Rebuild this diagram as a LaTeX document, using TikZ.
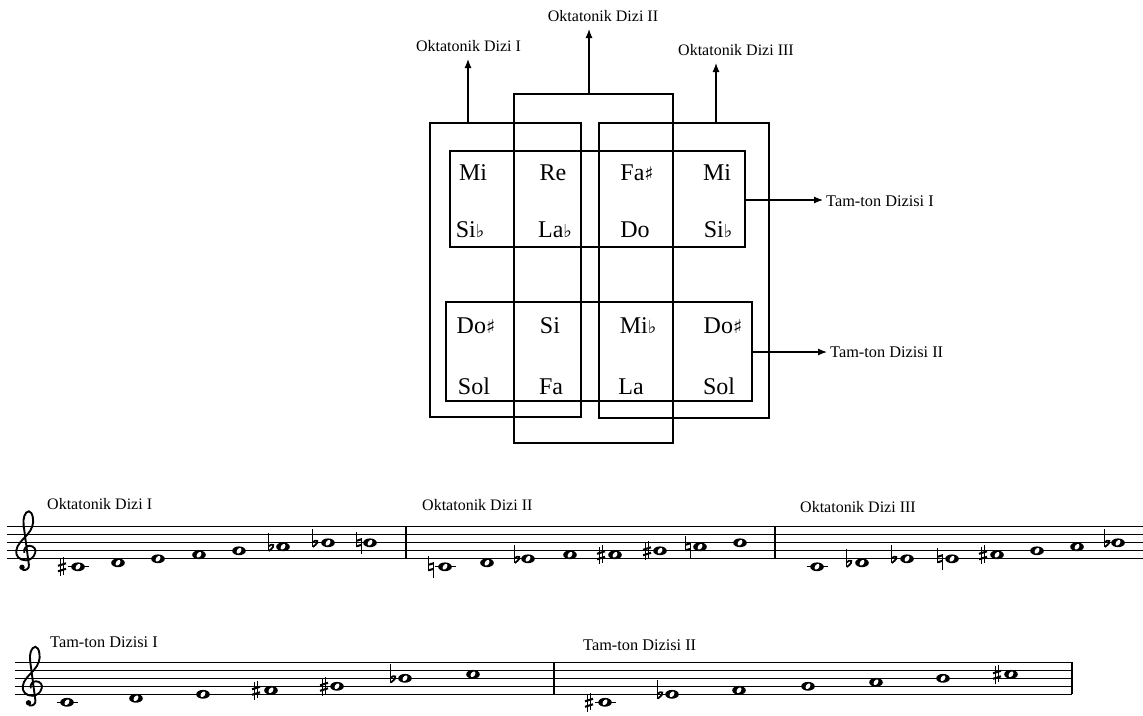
\documentclass[tikz,border=0pt]{standalone}
\usepackage{fontspec}
\setmainfont{Liberation Serif}
\newfontfamily\symfont{DejaVu Sans}
\usetikzlibrary{arrows.meta}
\newcommand{\shp}{{\symfont\fontsize{19}{19}\selectfont ♯}}
\newcommand{\flt}{{\symfont\fontsize{18}{18}\selectfont ♭}}
\tikzset{
  frame/.style={draw, line width=1.2pt, inner sep=0pt, fill=none},
  arr/.style={line width=1.2pt, -{Latex[length=9pt,width=7pt]}},
  cell/.style={anchor=base, inner sep=0pt, font=\fontsize{24}{28}\selectfont},
  lab/.style={anchor=base west, inner sep=0pt, font=\fontsize{16}{19}\selectfont},
  clab/.style={anchor=base, inner sep=0pt, font=\fontsize{16}{19}\selectfont},
  tlab/.style={anchor=base west, inner sep=0pt, font=\fontsize{16.3}{19}\selectfont},
  staffline/.style={line width=1pt},
  barline/.style={line width=1.2pt},
  wnote/.pic={\fill (0,0) ellipse [x radius=6.8, y radius=4.4];
              \fill[white, rotate=-35] (0,0) ellipse [x radius=2.0, y radius=3.2];},
  ledger/.pic={\draw[line width=1pt] (-10.5,0) -- (10.5,0);},
  sharpsign/.pic={\draw[line width=0.7pt] (-1.8,-8) -- (-1.8,9.5) (1.8,-9.5) -- (1.8,8);
                  \draw[line width=2pt] (-4,-1) -- (4,-3.5) (-4,4.5) -- (4,2);},
  flatsign/.pic={\draw[line width=0.8pt] (-3.5,-14) -- (-3.5,4.5);
                 \draw[line width=1.8pt] (-3.5,-0.5) .. controls (0,-4) and (5.5,-2) .. (-3.2,4.2);},
  naturalsign/.pic={\draw[line width=0.8pt] (-2.5,-11) -- (-2.5,4.5) (2.5,-4.5) -- (2.5,11);
                    \draw[line width=2pt] (-2.5,-2) -- (2.5,-3.5) (-2.5,3.5) -- (2.5,2);},
  trebleclef/.pic={
    \draw[line width=1.9pt, xscale=1.15]
      (-1.5,2) .. controls (-2.5,-3) and (1,-5) .. (3,-5)
      .. controls (7,-5) and (9,-1) .. (8,2)
      .. controls (7,7) and (3,9.5) .. (0,9.5)
      .. controls (-6,9.5) and (-9,5) .. (-8.5,0)
      .. controls (-8,-6) and (-3,-11) .. (1,-16)
      .. controls (5,-21) and (7,-27) .. (6,-33)
      .. controls (5.5,-37) and (4,-39.5) .. (2.5,-39.5)
      .. controls (-1,-39.5) and (-3,-32) .. (-2,-25)
      -- (2.5,14)
      .. controls (3,18) and (0,20) .. (-3,19);
    \fill (-4,16.5) circle (2.7);}
}
\begin{document}
\begin{tikzpicture}[x=1pt,y=-1pt]
\useasboundingbox (0,0) rectangle (1143,715);

% ---------- upper diagram ----------
\node[frame, minimum width=151pt, minimum height=294pt] (o1) at (505.5,270) {};
\node[frame, minimum width=159pt, minimum height=349pt] (o2) at (593.5,268.5) {};
\node[frame, minimum width=170pt, minimum height=295pt] (o3) at (684,270.5) {};
\node[frame, minimum width=295pt, minimum height=96pt] (t1) at (597.5,199) {};
\node[frame, minimum width=306pt, minimum height=99pt] (t2) at (599,351.5) {};

\node[clab] (lo1) at (468.5,51) {Oktatonik Dizi I};
\node[clab] (lo2) at (603,21) {Oktatonik Dizi II};
\node[clab] (lo3) at (736,55) {Oktatonik Dizi III};
\coordinate (a1) at (468,59);
\coordinate (a2) at (589,29);
\coordinate (a3) at (716,63);
\draw[arr] (o1.north -| a1) -- (a1);
\draw[arr] (o2.north -| a2) -- (a2);
\draw[arr] (o3.north -| a3) -- (a3);

\node[tlab] (lt1) at (826,206) {Tam-ton Dizisi I};
\node[tlab] (lt2) at (830,357) {Tam-ton Dizisi II};
\coordinate (b1) at (823,200);
\coordinate (b2) at (827,352);
\draw[arr] (t1.east |- b1) -- (b1);
\draw[arr] (t2.east |- b2) -- (b2);

\node[cell] (c11) at (473,180) {Mi};
\node[cell] (c12) at (553,180) {Re};
\node[cell] (c13) at (637,180) {Fa\shp};
\node[cell] (c14) at (717,180) {Mi};
\node[cell] (c21) at (470,237.5) {Si\flt};
\node[cell] (c22) at (555,237.5) {La\flt};
\node[cell] (c23) at (635,237.5) {Do};
\node[cell] (c24) at (718,237.5) {Si\flt};
\node[cell] (c31) at (476,333) {Do\shp};
\node[cell] (c32) at (550,333) {Si};
\node[cell] (c33) at (638,333) {Mi\flt};
\node[cell] (c34) at (723,333) {Do\shp};
\node[cell] (c41) at (474,394) {Sol};
\node[cell] (c42) at (551,394) {Fa};
\node[cell] (c43) at (631,394) {La};
\node[cell] (c44) at (719,394) {Sol};

% ---------- staff 1 ----------
\foreach \k in {0,...,4} \draw[staffline] (7,526.8+8*\k) -- (1143,526.8+8*\k);
\draw[barline] (406,526.8) -- (406,558.8);
\draw[barline] (775,526.8) -- (775,558.8);
\pic at (26,550.8) {trebleclef};
\node[lab] (s1a) at (47,509) {Oktatonik Dizi I};
\node[lab] (s1b) at (422,510) {Oktatonik Dizi II};
\node[lab] (s1c) at (800,512) {Oktatonik Dizi III};
% Okt I
\pic at (78,566.8) {ledger}; \pic at (78,566.8) {wnote}; \pic at (62,566.8) {sharpsign};
\pic at (118,562.8) {wnote};
\pic at (158,558.8) {wnote};
\pic at (199,554.8) {wnote};
\pic at (239,550.8) {wnote};
\pic at (283,546.8) {wnote}; \pic at (272,546.8) {flatsign};
\pic at (328,542.8) {wnote}; \pic at (316,542.8) {flatsign};
\pic at (370,542.8) {wnote}; \pic at (359,542.8) {naturalsign};
% Okt II
\pic at (445,566.8) {ledger}; \pic at (445,566.8) {wnote}; \pic at (431,566.8) {naturalsign};
\pic at (487,562.8) {wnote};
\pic at (528,558.8) {wnote}; \pic at (518,558.8) {flatsign};
\pic at (570,554.8) {wnote};
\pic at (615,554.8) {wnote}; \pic at (601,554.8) {sharpsign};
\pic at (660,550.8) {wnote}; \pic at (647,550.8) {sharpsign};
\pic at (700,546.8) {wnote}; \pic at (688,546.8) {naturalsign};
\pic at (740,542.8) {wnote};
% Okt III
\pic at (817,566.8) {ledger}; \pic at (817,566.8) {wnote};
\pic at (862,562.8) {wnote}; \pic at (850,562.8) {flatsign};
\pic at (907,558.8) {wnote}; \pic at (895,558.8) {flatsign};
\pic at (952,558.8) {wnote}; \pic at (940,558.8) {naturalsign};
\pic at (997,554.8) {wnote}; \pic at (983,554.8) {sharpsign};
\pic at (1037,550.8) {wnote};
\pic at (1077,546.8) {wnote};
\pic at (1118,542.8) {wnote}; \pic at (1108,542.8) {flatsign};

% ---------- staff 2 ----------
\foreach \k in {0,...,4} \draw[staffline] (15,662.3+8*\k) -- (1072,662.3+8*\k);
\draw[barline] (554,662.3) -- (554,694.3);
\draw[barline] (1072,662.3) -- (1072,694.3);
\pic at (32.5,686.3) {trebleclef};
\node[tlab] (s2a) at (50,647) {Tam-ton Dizisi I};
\node[tlab] (s2b) at (583,650) {Tam-ton Dizisi II};
% TT I
\pic at (67,702.3) {ledger}; \pic at (67,702.3) {wnote};
\pic at (136,698.3) {wnote};
\pic at (203,694.3) {wnote};
\pic at (271,690.3) {wnote}; \pic at (256,690.3) {sharpsign};
\pic at (337,686.3) {wnote}; \pic at (324,686.3) {sharpsign};
\pic at (405,678.3) {wnote}; \pic at (394,678.3) {flatsign};
\pic at (473,674.3) {wnote};
% TT II
\pic at (605,702.3) {ledger}; \pic at (605,702.3) {wnote}; \pic at (589,702.3) {sharpsign};
\pic at (672,694.3) {wnote}; \pic at (661,694.3) {flatsign};
\pic at (739,690.3) {wnote};
\pic at (808,686.3) {wnote};
\pic at (876,682.3) {wnote};
\pic at (943,678.3) {wnote};
\pic at (1011,674.3) {wnote}; \pic at (997,674.3) {sharpsign};
\end{tikzpicture}
\end{document}
